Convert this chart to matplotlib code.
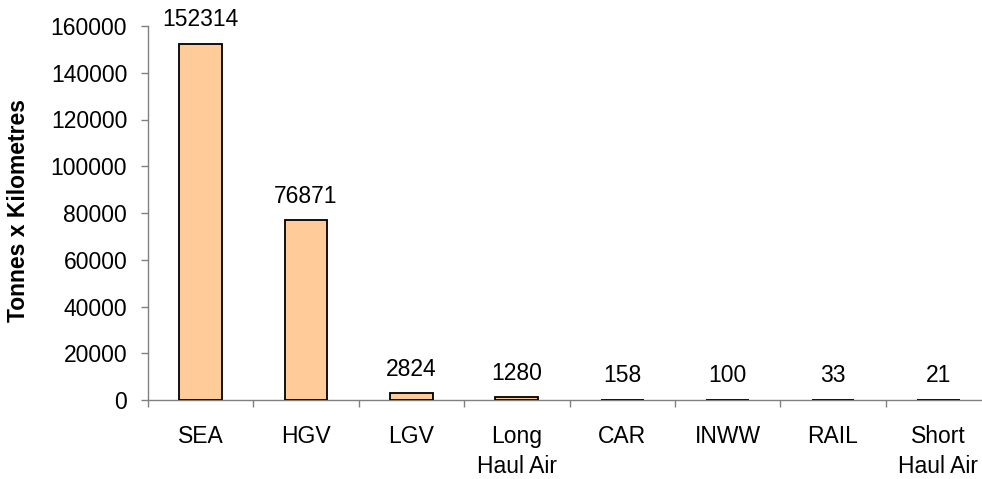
import matplotlib
matplotlib.use("Agg")
import matplotlib.pyplot as plt
import numpy as np

categories = ["SEA", "HGV", "LGV", "Long\nHaul Air", "CAR", "INWW", "RAIL", "Short\nHaul Air"]
values = [152314, 76871, 2824, 1280, 158, 100, 33, 21]
yticks = [0, 20000, 40000, 60000, 80000, 100000, 120000, 140000, 160000]

plt.rcParams['font.family'] = ['Liberation Sans', 'DejaVu Sans']

fig = plt.figure(figsize=(9.82, 4.79), dpi=100)
ax = fig.add_axes([148/982, 1-400/479, 843/982, 374/479])

x = np.arange(len(categories))
ax.bar(x, values, width=0.405, color="#FFCC99", edgecolor="black", linewidth=1.3, zorder=3)

for xi, v in zip(x, values):
    ax.annotate(str(v), (xi, v), xytext=(0, 9), textcoords="offset points",
                ha="center", va="bottom", fontsize=16.5)

ax.set_xlim(-0.5, len(categories) - 0.5)
ax.set_ylim(0, 160000)
ax.set_yticks(yticks)
ax.set_yticklabels([str(t) for t in yticks], fontsize=16.5)
ax.set_xticks(x)
ax.set_xticklabels(categories, fontsize=16.5, linespacing=1.38)
ax.set_xticks(np.arange(-0.5, len(categories)), minor=True)
ax.tick_params(axis="x", which="major", length=0, pad=18)
ax.tick_params(axis="x", which="minor", length=5, width=1, color="#808080", direction="out")
ax.tick_params(axis="y", which="major", length=5, width=1, color="#808080", direction="out", pad=10)

for s in ["top", "right"]:
    ax.spines[s].set_visible(False)
for s in ["left", "bottom"]:
    ax.spines[s].set_color("#808080")
    ax.spines[s].set_linewidth(1)

fig.text(19/982, 1 - 211/479, "Tonnes x Kilometres", rotation=90, ha="center", va="center",
         fontsize=16.5, fontweight="bold")

fig.savefig("out.png", dpi=100)
